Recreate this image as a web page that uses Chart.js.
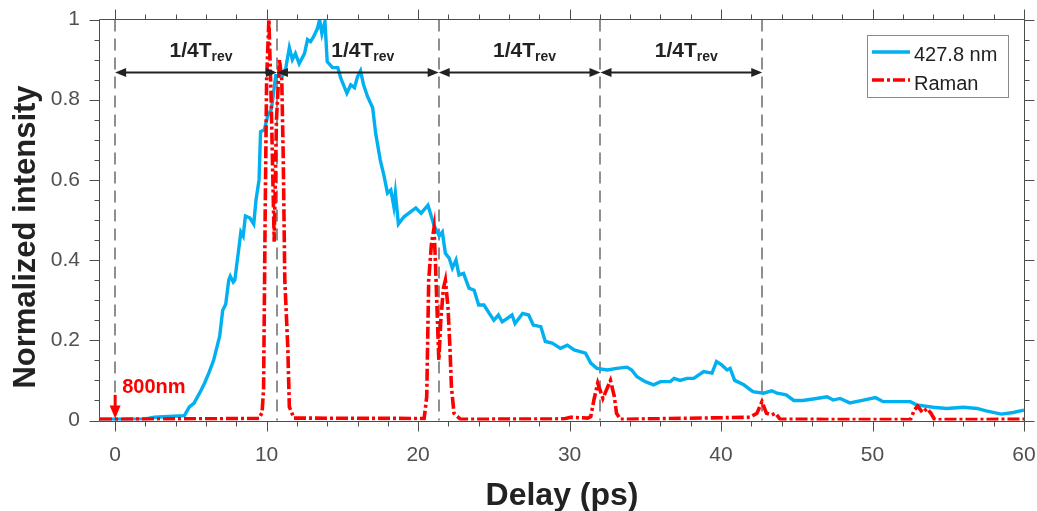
<!DOCTYPE html>
<html><head><meta charset="utf-8">
<script src="https://cdn.jsdelivr.net/npm/chart.js@4/dist/chart.umd.min.js"></script>
<style>html,body{margin:0;padding:0;background:#fff}#wrap{width:1037px;height:511px;position:relative}</style>
</head><body><div id="wrap"><canvas id="c"></canvas></div>
<script>
// ---------- data ----------
const seriesNames = ['427.8 nm', 'Raman'];
const blueX = [-1,0.5,2.0,2.6,3.5,4.57,4.9,5.2,5.6,5.9,6.2,6.5,6.9,7.1,7.3,7.5,7.6,7.8,7.9,8.1,8.3,8.45,8.6,8.9,9.15,9.3,9.5,9.6,9.85,10.07,10.3,10.4,10.6,10.8,11.05,11.27,11.5,11.7,11.9,12.15,12.5,12.7,12.9,13.1,13.36,13.5,13.65,13.85,14.0,14.35,14.7,14.9,15.3,15.55,15.8,16.0,16.2,16.4,16.66,17.0,17.2,17.5,17.75,17.98,18.2,18.4,18.5,18.7,19.07,19.5,19.85,20.2,20.65,21.05,21.4,21.6,21.8,22.05,22.26,22.5,22.7,23.0,23.36,23.7,24.0,24.35,24.7,25.0,25.3,25.55,25.9,26.2,26.4,26.9,27.3,27.6,28.1,28.4,28.85,29.4,29.85,30.3,30.7,31.05,31.4,31.8,32.5,33.1,33.8,34.1,34.45,35.0,35.55,36.0,36.65,36.9,37.3,37.75,38.2,38.85,39.4,39.7,40.06,40.4,40.6,40.9,41.5,42.1,42.8,43.35,43.7,44.3,44.8,45.4,46.3,47.0,47.4,47.86,48.5,49.4,50.2,50.7,51.6,52.5,52.9,54.0,54.9,56.0,56.9,57.5,58.5,59.3,60];
const blueY = [0.003,0.003,0.004,0.008,0.010,0.012,0.034,0.043,0.070,0.093,0.120,0.150,0.210,0.275,0.290,0.350,0.360,0.345,0.350,0.410,0.470,0.460,0.510,0.505,0.490,0.550,0.600,0.720,0.725,0.760,0.775,0.800,0.860,0.860,0.860,0.880,0.930,0.900,0.915,0.890,0.915,0.950,0.945,0.957,0.978,1.000,0.965,0.995,0.895,0.880,0.880,0.853,0.816,0.837,0.830,0.857,0.872,0.837,0.808,0.780,0.716,0.650,0.610,0.567,0.575,0.533,0.567,0.490,0.508,0.520,0.530,0.517,0.537,0.487,0.460,0.470,0.417,0.405,0.380,0.400,0.363,0.367,0.330,0.325,0.288,0.288,0.267,0.250,0.263,0.246,0.255,0.263,0.242,0.267,0.263,0.238,0.234,0.197,0.193,0.180,0.188,0.176,0.172,0.168,0.143,0.130,0.126,0.130,0.133,0.126,0.109,0.097,0.089,0.097,0.097,0.105,0.100,0.105,0.105,0.122,0.118,0.147,0.138,0.126,0.130,0.100,0.089,0.072,0.068,0.074,0.068,0.064,0.050,0.050,0.055,0.059,0.051,0.055,0.044,0.051,0.057,0.047,0.047,0.047,0.039,0.033,0.030,0.033,0.030,0.024,0.016,0.020,0.026];
const ramanX = [-1,9.5,9.7,9.8,9.9,10.0,10.15,10.3,10.5,10.65,10.85,11.0,11.1,11.2,11.4,11.5,11.8,20.4,20.57,20.7,20.88,21.05,21.15,21.26,21.37,21.5,21.67,21.8,21.97,22.1,22.2,22.37,22.8,29.6,30.06,31.2,31.4,31.6,31.86,32.2,32.7,32.96,33.1,33.35,41.9,42.37,42.7,43.0,43.35,43.6,43.9,52.5,52.76,52.98,53.3,53.6,53.86,54.1,60];
const ramanY = [0.003,0.005,0.020,0.080,0.500,0.850,1.000,0.800,0.446,0.750,0.900,0.850,0.650,0.350,0.180,0.034,0.006,0.005,0.060,0.350,0.440,0.480,0.390,0.267,0.150,0.250,0.330,0.350,0.284,0.184,0.084,0.018,0.003,0.004,0.008,0.006,0.010,0.050,0.093,0.055,0.100,0.059,0.018,0.003,0.008,0.018,0.047,0.018,0.014,0.018,0.003,0.002,0.026,0.036,0.020,0.030,0.018,0.002,0.003];
const revMarks = [0, 10.68, 21.36, 32.04, 42.72];
const xTicks = [0, 10, 20, 30, 40, 50, 60];
const yTicks = [0, 0.2, 0.4, 0.6, 0.8, 1];
const revLabelMain = '1/4T';
const revLabelSub = 'rev';
const pumpLabel = '800nm';
const xTitle = 'Delay (ps)';
const yTitle = 'Normalized intensity';

// ---------- style ----------
const FONT = '"Liberation Sans", Arial, Helvetica, sans-serif';
const BLUE = '#00B0F0', RED = '#FF0000';
const AXIS = '#4d4d4d', TICKTXT = '#505050', DARK = '#222222';
const RED_DASH = [12, 3, 3, 3];

function arrowHead(ctx, tipX, tipY, dir, len, half) {
  ctx.beginPath();
  ctx.moveTo(tipX, tipY);
  ctx.lineTo(tipX - dir * len, tipY - half);
  ctx.lineTo(tipX - dir * len, tipY + half);
  ctx.closePath();
  ctx.fill();
}

const annot = {
  id: 'annot',
  beforeDatasetsDraw(chart) {
    const {ctx, chartArea: a, scales: {x}} = chart;
    ctx.save();
    ctx.strokeStyle = '#8f8f8f';
    ctx.lineWidth = 2;
    ctx.setLineDash([12, 7]);
    revMarks.forEach(v => {
      const px = Math.round(x.getPixelForValue(v));
      ctx.beginPath(); ctx.moveTo(px, a.top); ctx.lineTo(px, a.bottom); ctx.stroke();
    });
    ctx.restore();
  },
  afterDatasetsDraw(chart) {
    const {ctx, chartArea: a, scales: {x, y}} = chart;
    ctx.save();
    // double arrows + labels
    const yA = Math.round(y.getPixelForValue(0.869)) + 0.5;
    const yL = y.getPixelForValue(0.906);
    ctx.strokeStyle = DARK; ctx.fillStyle = DARK; ctx.lineWidth = 2;
    for (let i = 0; i < revMarks.length - 1; i++) {
      const x1 = x.getPixelForValue(revMarks[i]);
      const x2 = x.getPixelForValue(revMarks[i + 1]);
      ctx.beginPath(); ctx.moveTo(x1 + 4, yA); ctx.lineTo(x2 - 4, yA); ctx.stroke();
      arrowHead(ctx, x1, yA, -1, 11, 4.5);
      arrowHead(ctx, x2, yA, 1, 11, 4.5);
      ctx.font = 'bold 21px ' + FONT;
      const w1 = ctx.measureText(revLabelMain).width;
      ctx.font = 'bold 14px ' + FONT;
      const w2 = ctx.measureText(revLabelSub).width;
      const cx = (x1 + x2) / 2 + 5;
      const sx = cx - (w1 + w2) / 2;
      ctx.textBaseline = 'alphabetic'; ctx.textAlign = 'left';
      ctx.font = 'bold 21px ' + FONT;
      ctx.fillText(revLabelMain, sx, yL);
      ctx.font = 'bold 14px ' + FONT;
      ctx.fillText(revLabelSub, sx + w1, yL + 4);
    }
    // 800nm marker
    const x0 = x.getPixelForValue(0);
    ctx.fillStyle = RED; ctx.strokeStyle = RED;
    ctx.font = 'bold 20px ' + FONT;
    ctx.textAlign = 'left'; ctx.textBaseline = 'alphabetic';
    ctx.fillText(pumpLabel, x0 + 7, y.getPixelForValue(0.069));
    ctx.lineWidth = 3;
    const tip = y.getPixelForValue(0.005);
    ctx.beginPath(); ctx.moveTo(x0, y.getPixelForValue(0.064)); ctx.lineTo(x0, tip - 10); ctx.stroke();
    ctx.beginPath(); ctx.moveTo(x0, tip); ctx.lineTo(x0 - 5.5, tip - 13); ctx.lineTo(x0 + 5.5, tip - 13); ctx.closePath(); ctx.fill();
    // legend
    const lx = a.right - 157, ly = a.top + 15.5;
    ctx.fillStyle = '#ffffff';
    ctx.fillRect(lx, ly, 141, 62);
    ctx.strokeStyle = '#8a8a8a'; ctx.lineWidth = 1;
    ctx.strokeRect(Math.round(lx) + 0.5, Math.round(ly) + 0.5, 141, 62);
    ctx.lineWidth = 3.4;
    ctx.strokeStyle = BLUE;
    ctx.beginPath(); ctx.moveTo(lx + 5, ly + 17); ctx.lineTo(lx + 43, ly + 17); ctx.stroke();
    ctx.strokeStyle = RED; ctx.setLineDash(RED_DASH);
    ctx.beginPath(); ctx.moveTo(lx + 5, ly + 45); ctx.lineTo(lx + 43, ly + 45); ctx.stroke();
    ctx.setLineDash([]);
    ctx.fillStyle = DARK; ctx.font = '20px ' + FONT;
    ctx.fillText(seriesNames[0], lx + 47, ly + 25.5);
    ctx.fillText(seriesNames[1], lx + 47, ly + 54.5);
    ctx.restore();
  },
  afterDraw(chart) {
    const {ctx, chartArea: a, scales: {x, y}} = chart;
    ctx.save();
    ctx.strokeStyle = AXIS; ctx.lineWidth = 1;
    const L = Math.floor(a.left) - 0.5, R = Math.round(a.right) + 0.5;
    const T = Math.floor(a.top) + 0.5, B = Math.round(a.bottom) + 0.5;
    ctx.beginPath();
    ctx.rect(L, T, R - L, B - T);
    for (let i = 0; i <= 30; i++) {
      const v = i * 2; const len = v % 10 === 0 ? 10 : 5;
      const px = Math.round(x.getPixelForValue(v)) + 0.5;
      ctx.moveTo(px, B); ctx.lineTo(px, B + len);
      ctx.moveTo(px, T); ctx.lineTo(px, T - len);
    }
    for (let i = 0; i <= 20; i++) {
      const v = i * 0.05; const len = i % 4 === 0 ? 10 : 5;
      const py = Math.round(y.getPixelForValue(v)) + 0.5;
      ctx.moveTo(L, py); ctx.lineTo(L - len, py);
      ctx.moveTo(R, py); ctx.lineTo(R + len, py);
    }
    ctx.stroke();
    // axis titles
    ctx.fillStyle = DARK;
    ctx.font = 'bold 32px ' + FONT;
    ctx.textAlign = 'center'; ctx.textBaseline = 'alphabetic';
    ctx.fillText(xTitle, (a.left + a.right) / 2, 505);
    ctx.translate(35, 237);
    ctx.rotate(-Math.PI / 2);
    ctx.font = 'bold 31px ' + FONT;
    ctx.fillText(yTitle, 0, 0);
    ctx.restore();
  }
};

const gridOpts = {display: true, drawOnChartArea: false, drawTicks: true, tickLength: 10, color: 'rgba(0,0,0,0)'};

new Chart(document.getElementById('c'), {
  type: 'line',
  data: {
    datasets: [
      {label: seriesNames[0], data: blueX.map((v, i) => ({x: v, y: blueY[i]})), borderColor: BLUE, borderWidth: 3.4,
       pointRadius: 0, tension: 0, fill: false, order: 1},
      {label: seriesNames[1], data: ramanX.map((v, i) => ({x: v, y: ramanY[i]})), borderColor: RED, borderWidth: 3.6,
       borderDash: RED_DASH, pointRadius: 0, tension: 0, fill: false, order: 0}
    ]
  },
  options: {
    responsive: true, maintainAspectRatio: false, animation: false,
    layout: {padding: {left: 0, right: 13, top: 19.5, bottom: 0}},
    plugins: {legend: {display: false}, tooltip: {enabled: false}},
    scales: {
      x: {
        type: 'linear', min: -1, max: 60,
        afterBuildTicks: s => { s.ticks = xTicks.map(v => ({value: v})); },
        afterFit: s => { s.height = 90.5; s.paddingLeft = 0; s.paddingRight = 0; },
        grid: gridOpts, border: {display: false},
        ticks: {font: {family: FONT, size: 21}, color: TICKTXT, padding: 12, maxRotation: 0, callback: v => String(v)}
      },
      y: {
        type: 'linear', min: 0, max: 1,
        afterBuildTicks: s => { s.ticks = yTicks.map(v => ({value: v})); },
        afterFit: s => { s.width = 100; s.paddingTop = 0; s.paddingBottom = 0; },
        grid: gridOpts, border: {display: false},
        ticks: {font: {family: FONT, size: 21}, color: TICKTXT, padding: 10, callback: v => String(Math.round(v * 10) / 10)}
      }
    }
  },
  plugins: [annot]
});
</script>
</body></html>
